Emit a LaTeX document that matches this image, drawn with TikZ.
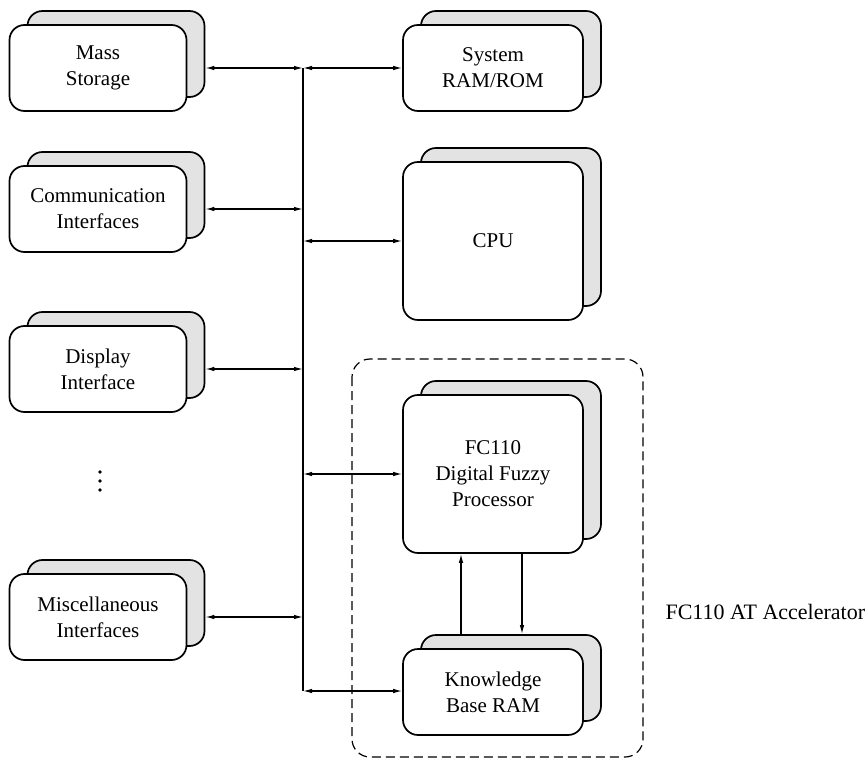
\documentclass[tikz,border=0pt]{standalone}
\usepackage{fontspec}
\setmainfont{Liberation Serif}
\usetikzlibrary{arrows.meta,shadows}
\tikzset{>={Latex[length=9pt,width=4.5pt]}}

\begin{document}
\begin{tikzpicture}[x=1pt,y=-1pt,font=\fontsize{21}{26}\selectfont,
                    link/.style={line width=1.2pt}]
      \tikzstyle{unit}=[draw=black,line width=1.7pt,rounded corners=15pt,fill=white,
                        align=center,inner sep=0pt,minimum width=177pt,minimum height=86pt,
                        copy shadow={shadow xshift=18pt,shadow yshift=14pt,fill=gray!22,
                                     draw=black,line width=1.7pt}]
      \tikzstyle{wide}=[minimum width=180pt]
      \useasboundingbox (0,0) rectangle (868,762);

      % accelerator frame
      \draw[line width=1.2pt,dash pattern=on 9pt off 5pt,rounded corners=18pt]
            (352,359) rectangle (643,757);
      \node[anchor=west,font=\fontsize{22}{26}\selectfont] (acc) at (662,612) {FC110 AT Accelerator};

      % left column
      \node[unit]      (mass)  at (98,68)  {Mass\\Storage};
      \node[unit]      (comm)  at (98,209) {Communication\\Interfaces};
      \node[unit]      (disp)  at (98,369) {Display\\Interface};
      \node[unit]      (misc)  at (98,617) {Miscellaneous\\Interfaces};
      \foreach \y in {472,481,490}
            \fill (100,\y) circle (1.8pt);

      % right column
      \node[unit,wide] (sys)   at (493,68)  {System\\RAM/ROM};
      \node[unit,wide,minimum height=158pt] (cpu) at (493,241) {CPU};
      \node[unit,wide,minimum height=158pt] (fc)  at (493,474) {FC110\\Digital Fuzzy\\Processor};
      \node[unit,wide] (kb)    at (493,692) {Knowledge\\Base RAM};

      % bus
      \coordinate (bustop) at (303,68);
      \coordinate (busbot) at (303,691);
      \draw[link] (bustop) -- (busbot);

      \draw[link,<->] ([xshift=18pt]mass.east) -- (mass.east -| bustop);
      \draw[link,<->] ([xshift=18pt]comm.east) -- (comm.east -| bustop);
      \draw[link,<->] ([xshift=18pt]disp.east) -- (disp.east -| bustop);
      \draw[link,<->] ([xshift=18pt]misc.east) -- (misc.east -| bustop);

      \draw[link,<->] (sys.west -| bustop) -- (sys.west);
      \draw[link,<->] (cpu.west -| bustop) -- (cpu.west);
      \draw[link,<->] (fc.west -| bustop)  -- (fc.west);
      \draw[link,<->] (busbot) -- (kb.west |- busbot);

      % processor <-> knowledge base
      \draw[link,->] ([xshift=-32pt,yshift=14pt]kb.north) -- ([xshift=-32pt]fc.south);
      \draw[link,->] ([xshift=29pt]fc.south) -- ([xshift=29pt,yshift=14pt]kb.north);
\end{tikzpicture}
\end{document}
